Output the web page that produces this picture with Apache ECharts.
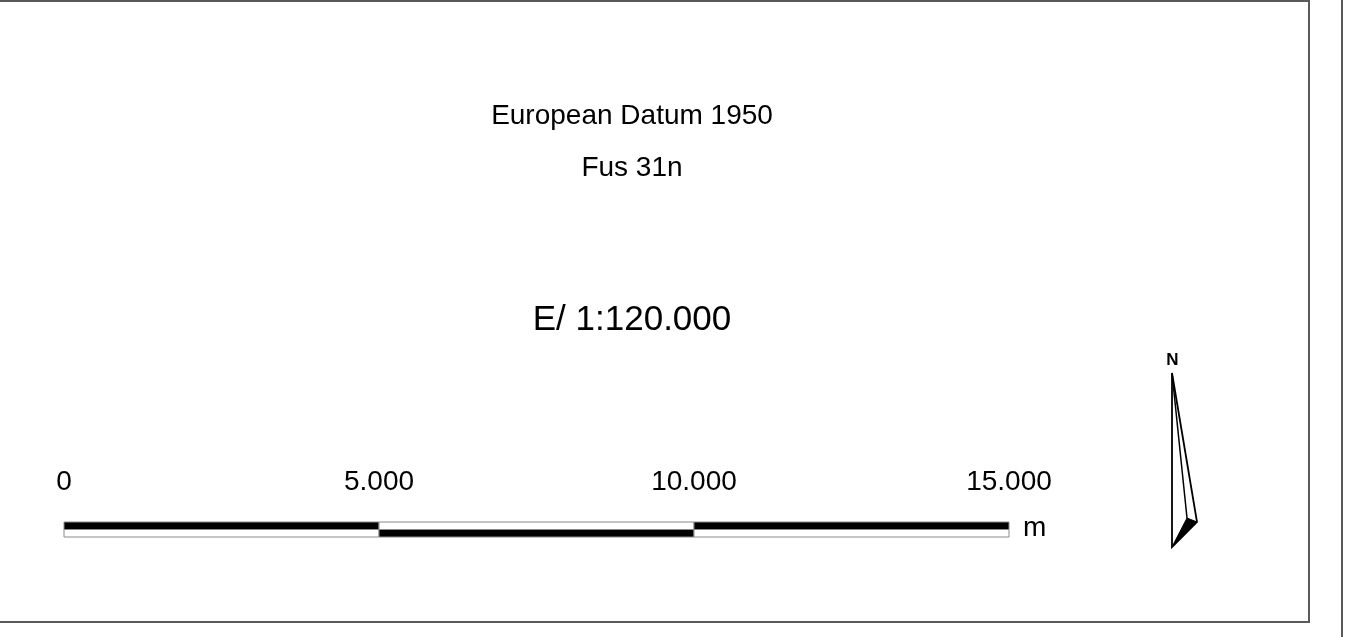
<!DOCTYPE html>
<html>
<head>
<meta charset="utf-8">
<style>
html,body{margin:0;padding:0;background:#fff;}
#chart{width:1349px;height:637px;}
</style>
<script src="https://cdn.jsdelivr.net/npm/echarts@6/dist/echarts.min.js"></script>
</head>
<body>
<div id="chart"></div>
<script>
// ---- data ----
const datumTitle = 'European Datum 1950';
const zoneTitle = 'Fus 31n';
const scaleTitle = 'E/ 1:120.000';
const unitLabel = 'm';
const tickValues = [0, 5000, 10000, 15000];
const segmentStarts = [0, 5000, 10000];
const segmentEnds = [5000, 10000, 15000];
const upperDark = [1, 0, 1];
const lowerDark = [0, 1, 0];
const rows = ['lower', 'upper'];

const FONT = '"Liberation Sans", Arial, sans-serif';
function fmt(v) { return String(v).replace(/\B(?=(\d{3})+(?!\d))/g, '.'); }

const segData = [];
for (let i = 0; i < segmentStarts.length; i++) {
  segData.push([segmentStarts[i], segmentEnds[i], 'upper', upperDark[i]]);
  segData.push([segmentStarts[i], segmentEnds[i], 'lower', lowerDark[i]]);
}

const chart = echarts.init(document.getElementById('chart'), null, {renderer: 'canvas'});
chart.setOption({
  backgroundColor: '#fff',
  animation: false,
  grid: {left: 64, width: 945, top: 522, height: 15},
  xAxis: {
    type: 'value', min: 0, max: 15000, interval: 5000, position: 'top',
    axisLine: {show: false}, axisTick: {show: false}, splitLine: {show: false},
    axisLabel: {
      show: true, margin: 26, fontSize: 28, color: '#000', fontFamily: FONT,
      showMinLabel: true, showMaxLabel: true,
      formatter: function (v) { return tickValues.indexOf(v) >= 0 ? fmt(v) : ''; }
    }
  },
  yAxis: {
    type: 'category', data: rows, show: false
  },
  series: [{
    type: 'custom',
    data: segData,
    renderItem: function (params, api) {
      const p0 = api.coord([api.value(0), api.value(2)]);
      const p1 = api.coord([api.value(1), api.value(2)]);
      const h = api.size([0, 1])[1];
      return {
        type: 'rect',
        shape: {x: p0[0], y: p0[1] - h / 2, width: p1[0] - p0[0], height: h},
        style: {fill: api.value(3) ? '#000' : '#fff', stroke: '#8a8a8a', lineWidth: 1}
      };
    },
    encode: {x: [0, 1], y: 2}
  }],
  graphic: [
    {type: 'rect', silent: true, shape: {x: -20, y: 1, width: 1329, height: 621},
     style: {fill: 'none', stroke: '#5a5a5a', lineWidth: 2}},
    {type: 'line', silent: true, shape: {x1: 1342, y1: 0, x2: 1342, y2: 637},
     style: {stroke: '#5a5a5a', lineWidth: 2}},
    {type: 'text', x: 632, y: 116, style: {text: datumTitle, font: '28px ' + FONT, fill: '#000', align: 'center', verticalAlign: 'middle'}},
    {type: 'text', x: 632, y: 168, style: {text: zoneTitle, font: '28px ' + FONT, fill: '#000', align: 'center', verticalAlign: 'middle'}},
    {type: 'text', x: 632, y: 320, style: {text: scaleTitle, font: '35px ' + FONT, fill: '#000', align: 'center', verticalAlign: 'middle'}},
    {type: 'text', x: 1023, y: 528, style: {text: unitLabel, font: '28px ' + FONT, fill: '#000', align: 'left', verticalAlign: 'middle'}},
    {type: 'text', x: 1172.5, y: 360, style: {text: 'N', font: 'bold 17px ' + FONT, fill: '#000', align: 'center', verticalAlign: 'middle'}},
    {type: 'polygon', silent: true, shape: {points: [[1172, 373], [1197, 522], [1172, 547]]},
     style: {fill: '#fff', stroke: '#000', lineWidth: 1.8, lineJoin: 'miter'}},
    {type: 'polygon', silent: true, shape: {points: [[1172, 547], [1187, 518], [1197, 522]]},
     style: {fill: '#000', stroke: '#000', lineWidth: 1}},
    {type: 'line', silent: true, shape: {x1: 1172, y1: 373, x2: 1187, y2: 518},
     style: {stroke: '#000', lineWidth: 1.5}}
  ]
});
</script>
</body>
</html>
